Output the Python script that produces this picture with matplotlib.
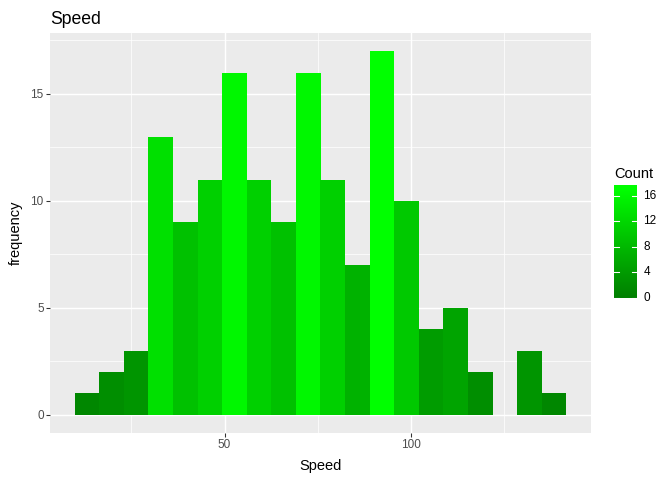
import numpy as np
import matplotlib.pyplot as plt
from matplotlib.colors import LinearSegmentedColormap, Normalize

plt.rcParams['font.family'] = ['Liberation Sans', 'DejaVu Sans']

# histogram of Speed, 20 bins
bin_start = 9.8
bin_width = 6.59
counts = [1, 2, 3, 13, 9, 11, 16, 11, 9, 16, 11, 7, 17, 10, 4, 5, 2, 0, 3, 1]
x_ticks = [50, 100]
y_ticks = [0, 5, 10, 15]
legend_ticks = [0, 4, 8, 12, 16]

low_g, high_g = 0x80, 0xFF  # "#008000" -> "#00FF00"


def g_to_L(g):
    c = g / 255.0
    lin = c / 12.92 if c <= 0.04045 else ((c + 0.055) / 1.055) ** 2.4
    y = 0.7152 * lin
    f = y ** (1 / 3) if y > 0.008856 else 7.787 * y + 16 / 116
    return 116 * f - 16


def L_to_g(L):
    f = (L + 16) / 116
    y = f ** 3 if f ** 3 > 0.008856 else (f - 16 / 116) / 7.787
    lin = min(y / 0.7152, 1.0)
    c = 12.92 * lin if lin <= 0.0031308 else 1.055 * lin ** (1 / 2.4) - 0.055
    return min(max(c, 0), 1)


# Lab-like interpolation between the two greens
L0, L1 = g_to_L(low_g), g_to_L(high_g)
cols = [(0, L_to_g(L0 + (L1 - L0) * t), 0) for t in np.linspace(0, 1, 256)]
cmap = LinearSegmentedColormap.from_list('grn', cols)
norm = Normalize(vmin=min(counts), vmax=max(counts))

fig = plt.figure(figsize=(7, 5), dpi=96)
ax = fig.add_axes([50 / 672, 47 / 480, 541 / 672, 400 / 480])
ax.set_facecolor('#EBEBEB')

lefts = bin_start + bin_width * np.arange(len(counts))
ax.bar(lefts, counts, width=bin_width, align='edge',
       color=[cmap(norm(c)) for c in counts], linewidth=0, zorder=3)

xmin, xmax = bin_start, bin_start + bin_width * len(counts)
pad = (xmax - xmin) * 0.05
ax.set_xlim(xmin - pad, xmax + pad)
ax.set_ylim(-max(counts) * 0.05, max(counts) * 1.05)

ax.set_xticks(x_ticks)
ax.set_yticks(y_ticks)
ax.set_xticks([25, 75, 125], minor=True)
ax.set_yticks([2.5, 7.5, 12.5, 17.5], minor=True)
ax.grid(which='major', color='white', linewidth=1.1, zorder=1)
ax.grid(which='minor', color='white', linewidth=0.55, zorder=1)
ax.set_axisbelow(True)
for s in ax.spines.values():
    s.set_visible(False)
ax.tick_params(which='major', length=2.75, width=0.8, color='#333333',
               labelsize=8.8, labelcolor='#4D4D4D', pad=2)
ax.tick_params(which='minor', length=0)

ax.set_xlabel('Speed', fontsize=11, color='black', labelpad=6)
ax.set_ylabel('frequency', fontsize=11, color='black', labelpad=5.5)
ax.set_title('Speed', fontsize=13.2, loc='left', pad=7)

# colour bar legend
cax = fig.add_axes([614 / 672, (480 - 298.3) / 480, 22.7 / 672, 113.3 / 480])
lo, hi = -0.1, 17.7
grad = np.linspace(lo, hi, 200).reshape(-1, 1)
cax.imshow(grad, cmap=cmap, norm=norm, aspect='auto', origin='lower',
           extent=[0, 1, lo, hi])
cax.set_xlim(0, 1)
cax.set_ylim(lo, hi)
for s in cax.spines.values():
    s.set_visible(False)
cax.set_xticks([])
cax.set_yticks([])
for t in legend_ticks:
    cax.plot([0, 0.2], [t, t], color='white', lw=0.8)
    cax.plot([0.8, 1], [t, t], color='white', lw=0.8)
    cax.text(1.3, t, str(t), fontsize=8.8, va='center', ha='left',
             transform=cax.transData, clip_on=False)
fig.text(614 / 672, 1 - 174 / 480, 'Count', fontsize=11, va='center', ha='left')

fig.savefig('out.png', dpi=96)
